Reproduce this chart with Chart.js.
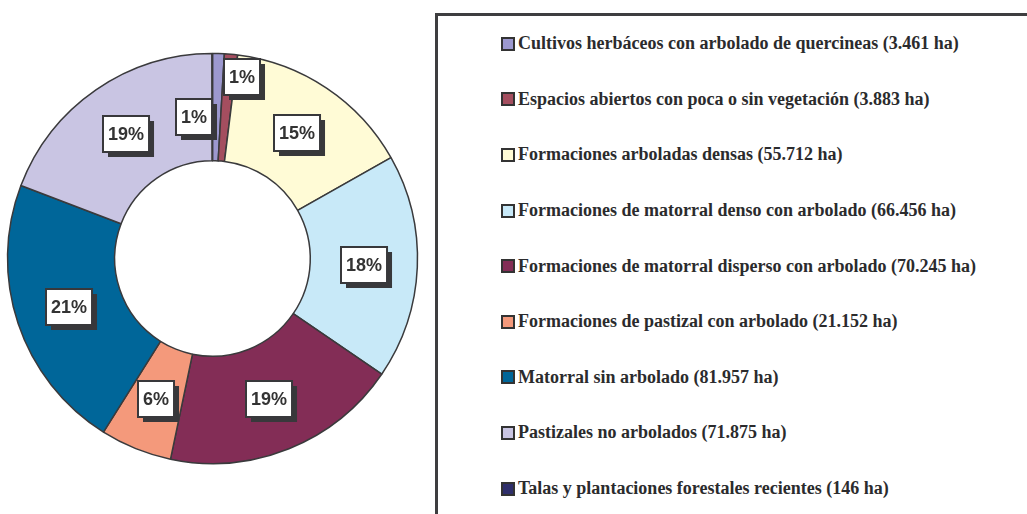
<!DOCTYPE html>
<html>
<head>
<meta charset="utf-8">
<script src="https://cdn.jsdelivr.net/npm/chart.js@4.4.1/dist/chart.umd.min.js"></script>
<style>
  html, body { margin: 0; padding: 0; background: #fff; }
  body { width: 1027px; height: 514px; position: relative; overflow: hidden; }
  #chartBox { position: absolute; left: 0; top: 0; width: 425px; height: 514px; }
  #legend {
    position: absolute; left: 435px; top: 13px; width: 700px; height: 600px;
    border: 3px solid #3e3e40; box-sizing: border-box;
    font-family: "Liberation Serif", "DejaVu Serif", serif; font-weight: bold;
    font-size: 18px; color: #2b2b2d;
  }
  .item { height: 55.6px; display: flex; align-items: center; padding-left: 63px; white-space: nowrap; }
  .mark { width: 10px; height: 10px; border: 2px solid #333; margin-right: 3px; flex: none; }
</style>
</head>
<body>
<div id="chartBox"><canvas id="c"></canvas></div>
<div id="legend"></div>
<script>
// datos (ha)
const categories = [
  'Cultivos herbáceos con arbolado de quercineas',
  'Espacios abiertos con poca o sin vegetación',
  'Formaciones arboladas densas',
  'Formaciones de matorral denso con arbolado',
  'Formaciones de matorral disperso con arbolado',
  'Formaciones de pastizal con arbolado',
  'Matorral sin arbolado',
  'Pastizales no arbolados',
  'Talas y plantaciones forestales recientes'
];
const areas = [3461, 3883, 55712, 66456, 70245, 21152, 81957, 71875, 146];
const areaText = ['3.461', '3.883', '55.712', '66.456', '70.245', '21.152', '81.957', '71.875', '146'];
const pctLabels = ['1%', '1%', '15%', '18%', '19%', '6%', '21%', '19%', ''];
const colors = ['#9c98cf', '#a44e5f', '#fffbd6', '#c8e9f8', '#832d56', '#f4997b', '#006699', '#c9c5e3', '#2f2f6b'];

// desplazamiento de las etiquetas pequeñas
const labelShift = [[-23, 10], [16, -31], [0, 0], [0, 0], [0, 0], [0, 0], [0, 0], [0, 0], [0, 0]];

// leyenda html
const legend = document.getElementById('legend');
categories.forEach((name, i) => {
  const row = document.createElement('div');
  row.className = 'item';
  const mark = document.createElement('span');
  mark.className = 'mark';
  mark.style.background = colors[i];
  row.appendChild(mark);
  row.appendChild(document.createTextNode(name + ' (' + areaText[i] + ' ha)'));
  legend.appendChild(row);
});

/**
 * etiquetas con caja blanca y sombra
 */
const boxLabels = {
  id: 'boxLabels',
  afterDatasetsDraw(chart) {
    const ctx = chart.ctx;
    const meta = chart.getDatasetMeta(0);
    ctx.save();
    ctx.font = 'bold 18px "Liberation Sans", Arial, sans-serif';
    ctx.textAlign = 'center';
    ctx.textBaseline = 'middle';
    meta.data.forEach((arc, i) => {
      const text = pctLabels[i];
      if (!text) return;
      const p = arc.getProps(['x', 'y', 'startAngle', 'endAngle', 'innerRadius', 'outerRadius'], true);
      const a = (p.startAngle + p.endAngle) / 2;
      const r = (p.innerRadius + p.outerRadius) / 2;
      const cx = p.x + Math.cos(a) * r + labelShift[i][0];
      const cy = p.y + Math.sin(a) * r + labelShift[i][1];
      const w = ctx.measureText(text).width + 10;
      const h = 36;
      const x = Math.round(cx - w / 2);
      const y = Math.round(cy - h / 2);
      // sombra
      ctx.fillStyle = '#38383b';
      ctx.fillRect(x + 5, y + 5, w, h);
      // caja
      ctx.fillStyle = '#fff';
      ctx.fillRect(x, y, w, h);
      ctx.strokeStyle = '#38383b';
      ctx.lineWidth = 2;
      ctx.strokeRect(x, y, w, h);
      ctx.fillStyle = '#333';
      ctx.fillText(text, x + w / 2, y + h / 2 + 1);
    });
    ctx.restore();
  }
};

new Chart(document.getElementById('c'), {
  type: 'doughnut',
  data: {
    labels: categories,
    datasets: [{
      data: areas,
      backgroundColor: colors,
      borderColor: '#3a3a3c',
      borderWidth: 1.5
    }]
  },
  options: {
    responsive: true,
    maintainAspectRatio: false,
    animation: false,
    radius: 205,
    cutout: 101,
    layout: { padding: { top: 3 } },
    plugins: {
      legend: { display: false },
      tooltip: { enabled: false }
    }
  },
  plugins: [boxLabels]
});
</script>
</body>
</html>
